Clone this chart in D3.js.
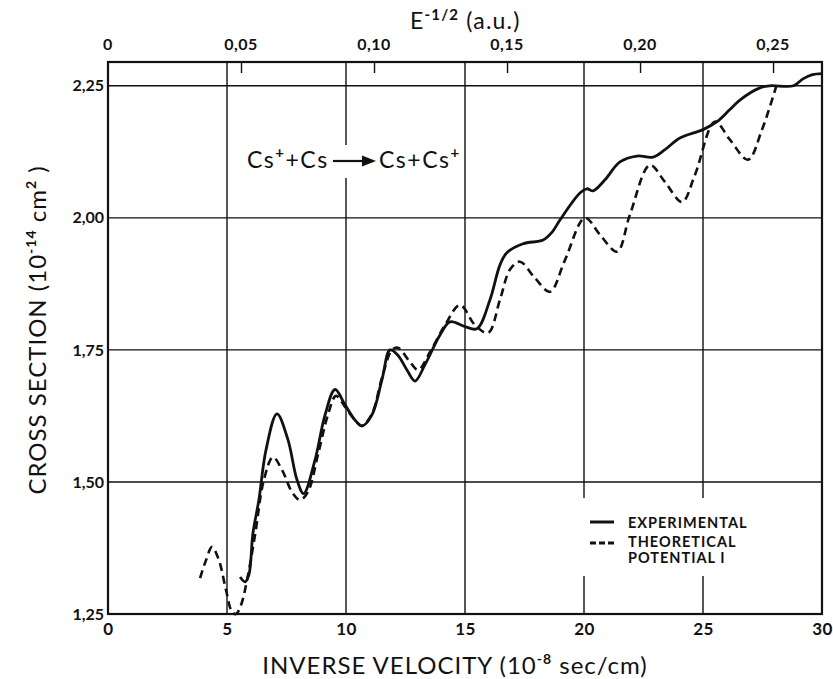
<!DOCTYPE html>
<html><head><meta charset="utf-8">
<script src="https://cdn.jsdelivr.net/npm/d3@7"></script>
<style>body{margin:0;background:#fff}svg{display:block}</style>
</head><body>
<svg id="c" width="833" height="679"></svg>
<script>
// ---- data ----
const xTicks = [0,5,10,15,20,25,30];
const yTicks = [1.25,1.50,1.75,2.00,2.25];
const yTickLabels = ["1,25","1,50","1,75","2,00","2,25"];
const eTicks = [0,0.05,0.10,0.15,0.20,0.25];
const eTickLabels = ["0","0,05","0,10","0,15","0,20","0,25"];
const expX = [5.55,5.76,5.92,6.09,6.34,6.64,7.10,7.56,7.94,8.22,8.70,9.12,9.54,9.96,10.38,10.67,11.09,11.51,11.85,12.18,12.56,12.90,13.32,13.95,14.37,15.0,15.5,16.05,16.47,16.76,17.44,18.28,18.66,18.99,19.83,20.13,20.38,20.88,21.51,22.23,22.9,23.4,24.03,25.0,25.59,26.13,26.55,27.39,27.8,28.8,29.2,29.6,30.0];
const expY = [1.320,1.311,1.324,1.403,1.466,1.561,1.629,1.580,1.504,1.478,1.542,1.627,1.675,1.646,1.617,1.606,1.627,1.693,1.750,1.740,1.712,1.691,1.722,1.778,1.803,1.794,1.790,1.845,1.911,1.934,1.951,1.958,1.973,1.996,2.047,2.055,2.051,2.072,2.106,2.117,2.115,2.129,2.151,2.167,2.182,2.205,2.223,2.246,2.250,2.250,2.263,2.271,2.273];
const thX = [3.87,4.12,4.37,4.66,4.96,5.21,5.38,5.59,5.84,6.18,6.55,6.93,7.31,7.73,8.07,8.40,8.82,9.24,9.58,9.96,10.38,10.67,11.09,11.51,11.93,12.18,12.69,13.03,13.53,14.16,14.79,15.42,15.97,16.47,16.89,17.31,17.94,18.57,19.2,20.04,20.67,21.39,21.93,22.77,23.4,24.12,24.66,25.5,26.13,26.89,27.48,28.07];
const thY = [1.318,1.352,1.377,1.352,1.295,1.254,1.250,1.267,1.314,1.400,1.504,1.547,1.523,1.481,1.466,1.481,1.551,1.627,1.663,1.642,1.617,1.606,1.629,1.697,1.750,1.754,1.727,1.712,1.746,1.797,1.835,1.797,1.782,1.845,1.902,1.917,1.886,1.860,1.920,2.000,1.968,1.936,2.006,2.100,2.068,2.030,2.081,2.182,2.148,2.110,2.167,2.248];

const FONT = "Lato, 'DejaVu Sans', sans-serif";
const svg = d3.select("#c");
const x = d3.scaleLinear().domain([0,30]).range([108,822]);
const y = d3.scaleLinear().domain([1.25,2.295]).range([614,62]);
const e = d3.scaleLinear().domain([0,0.2684]).range([108,822]);

// grid
const g = svg.append("g");
g.selectAll("line.vg").data(xTicks.slice(1,-1)).join("line")
  .attr("x1",d=>x(d)).attr("x2",d=>x(d)).attr("y1",y.range()[1]).attr("y2",y.range()[0])
  .attr("stroke","#111").attr("stroke-width",1.4);
g.selectAll("line.hg").data(yTicks.slice(1)).join("line")
  .attr("x1",108).attr("x2",822).attr("y1",d=>y(d)).attr("y2",d=>y(d))
  .attr("stroke","#111").attr("stroke-width",1.4);

// top axis ticks (inward)
svg.append("g").attr("transform","translate(0,62)")
  .call(d3.axisTop(e).tickValues(eTicks.slice(1)).tickSize(-11).tickFormat(""))
  .call(a=>a.select(".domain").remove())
  .call(a=>a.selectAll("line").attr("stroke","#111").attr("stroke-width",1.4));
svg.append("g").selectAll("text").data(eTicks).join("text")
  .attr("x",d=>e(d)).attr("y",50).attr("text-anchor","middle")
  .attr("font-family",FONT).attr("font-weight","bold").attr("font-size",16).attr("letter-spacing",0.5)
  .attr("fill","#111").text((d,i)=>eTickLabels[i]);

// bottom axis labels
svg.append("g").attr("transform","translate(0,614)")
  .call(d3.axisBottom(x).tickValues(xTicks).tickSize(0).tickPadding(9).tickFormat(d3.format("d")))
  .call(a=>a.select(".domain").remove())
  .call(a=>a.selectAll("text").attr("font-family",FONT).attr("font-weight","bold").attr("font-size",17).attr("letter-spacing",0.5).attr("fill","#111"));

// left axis labels
svg.append("g").attr("transform","translate(108,0)")
  .call(d3.axisLeft(y).tickValues(yTicks).tickSize(0).tickPadding(4).tickFormat((d,i)=>yTickLabels[i]))
  .call(a=>a.select(".domain").remove())
  .call(a=>a.selectAll("text").attr("font-family",FONT).attr("font-weight","bold").attr("font-size",16).attr("fill","#111"));

// frame
svg.append("rect").attr("x",108).attr("y",62).attr("width",714).attr("height",552)
  .attr("fill","none").attr("stroke","#111").attr("stroke-width",2.2);

// backdrops for legend and annotation
svg.append("rect").attr("x",582).attr("y",498).attr("width",200).attr("height",78).attr("fill","#fff");
svg.append("rect").attr("x",244).attr("y",145).attr("width",219).attr("height",33).attr("fill","#fff");

// curves
const line = d3.line().x(d=>x(d[0])).y(d=>y(d[1])).curve(d3.curveCatmullRom.alpha(0.5));
const thData = thX.map((v,i)=>[v,thY[i]]);
const expData = expX.map((v,i)=>[v,expY[i]]);
svg.append("path").attr("d",line(thData)).attr("fill","none").attr("stroke","#111")
  .attr("stroke-width",2.6).attr("stroke-dasharray","8,5");
svg.append("path").attr("d",line(expData)).attr("fill","none").attr("stroke","#111")
  .attr("stroke-width",2.8);

// legend
const lg = svg.append("g").attr("font-family",FONT).attr("font-weight","bold").attr("font-size",14.5)
  .attr("letter-spacing",1).attr("fill","#111");
lg.append("line").attr("x1",590).attr("x2",614).attr("y1",522).attr("y2",522).attr("stroke","#111").attr("stroke-width",3);
lg.append("line").attr("x1",590).attr("x2",614).attr("y1",543).attr("y2",543).attr("stroke","#111").attr("stroke-width",3).attr("stroke-dasharray","6,3");
lg.append("text").attr("x",628).attr("y",528).text("EXPERIMENTAL");
lg.append("text").attr("x",628).attr("y",547).text("THEORETICAL");
lg.append("text").attr("x",628).attr("y",563).text("POTENTIAL I");

// axis titles
const xt = svg.append("text").attr("x",455).attr("y",674).attr("text-anchor","middle")
  .attr("font-family",FONT).attr("font-size",24).attr("letter-spacing",1).attr("fill","#111");
xt.append("tspan").text("INVERSE  VELOCITY (10");
xt.append("tspan").attr("dy",-10).attr("font-size",14).attr("font-weight","bold").text("-8");
xt.append("tspan").attr("dy",10).text(" sec/cm)");

const yt = svg.append("text").attr("transform","translate(46,330) rotate(-90)").attr("text-anchor","middle")
  .attr("font-family",FONT).attr("font-size",24).attr("letter-spacing",1).attr("fill","#111");
yt.append("tspan").text("CROSS SECTION  (10");
yt.append("tspan").attr("dy",-10).attr("font-size",14).attr("font-weight","bold").text("-14");
yt.append("tspan").attr("dy",10).text(" cm");
yt.append("tspan").attr("dy",-10).attr("font-size",14).attr("font-weight","bold").text("2");
yt.append("tspan").attr("dy",10).text(" )");

const tt = svg.append("text").attr("x",410).attr("y",29).attr("text-anchor","start")
  .attr("font-family",FONT).attr("font-size",23).attr("letter-spacing",1.2).attr("fill","#111");
tt.append("tspan").text("E");
tt.append("tspan").attr("dy",-9).attr("font-size",15).attr("font-weight","bold").text("-1/2");
tt.append("tspan").attr("dy",9).text("  (a.u.)");

// reaction annotation
const an = svg.append("g").attr("font-family",FONT).attr("font-size",23).attr("letter-spacing",1.5).attr("fill","#111");
const a1 = an.append("text").attr("x",247).attr("y",168);
a1.append("tspan").text("Cs");
a1.append("tspan").attr("dy",-10).attr("font-size",15).attr("font-weight","bold").text("+");
a1.append("tspan").attr("dy",10).text("+Cs");
an.append("line").attr("x1",333).attr("x2",364).attr("y1",161).attr("y2",161).attr("stroke","#111").attr("stroke-width",2.2);
an.append("path").attr("d","M362,155.5 L376,161 L362,166.5 Z").attr("fill","#111");
const a2 = an.append("text").attr("x",379).attr("y",168);
a2.append("tspan").text("Cs+Cs");
a2.append("tspan").attr("dy",-10).attr("font-size",15).attr("font-weight","bold").text("+");
</script>
</body></html>
